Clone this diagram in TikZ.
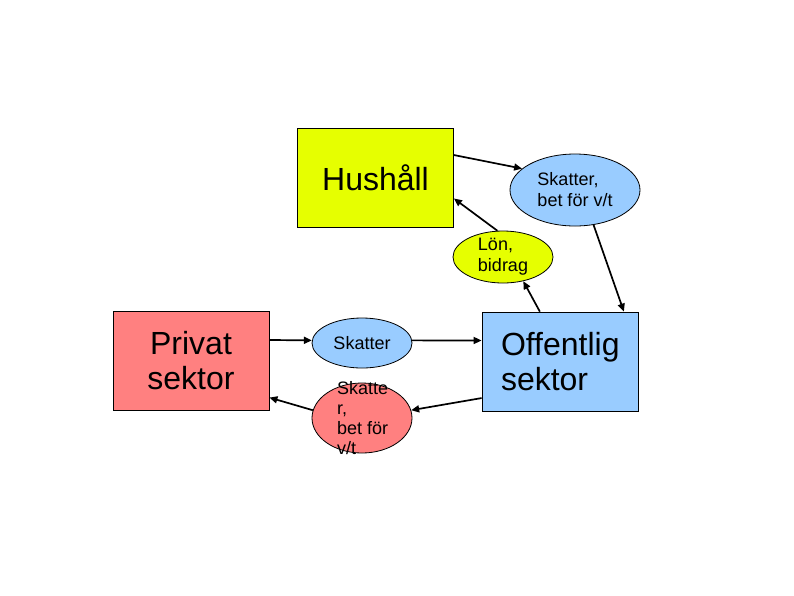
\documentclass[tikz,border=0pt]{standalone}
\usepackage{fontspec}
\setmainfont{Liberation Sans}
\usetikzlibrary{arrows.meta,shapes.geometric}
\definecolor{hyellow}{RGB}{230,255,0}
\definecolor{hblue}{RGB}{153,204,255}
\definecolor{hred}{RGB}{255,128,128}
\begin{document}
\begin{tikzpicture}[x=1pt,y=-1pt,
  box/.style={draw=black, line width=0.8pt, minimum width=156pt, minimum height=99pt, inner sep=0pt},
  oval/.style={ellipse, draw=black, line width=0.8pt, inner sep=0pt},
  big/.style={font=\fontsize{32}{35}\selectfont},
  small/.style={font=\fontsize{18}{21}\selectfont, align=left, inner sep=0pt},
  flow/.style={line width=1.7pt, -{Triangle[length=8pt,width=7pt]}}]
\useasboundingbox[fill=white] (0,0) rectangle (794,595);

% boxes
\node[box, fill=hyellow, big, align=center] (hus) at (375.5,177.5) {Hushåll};
\node[box, fill=hred, big, align=center] (priv) at (191,361) {Privat\\sektor};
\node[box, fill=hblue, big, align=left, text width=118pt, inner xsep=19pt] (off) at (560,361.5) {Offentlig\\sektor};

% ellipses
\node[oval, fill=hblue, minimum width=130pt, minimum height=72pt] (sk1) at (575,190) {};
\node[small] (sk1t) at (sk1.center) {Skatter,\\bet för v/t};
\node[oval, fill=hyellow, minimum width=100pt, minimum height=52pt] (lon) at (503,257) {};
\node[small] (lont) at (lon.center) {Lön,\\bidrag};
\node[oval, fill=hblue, minimum width=100pt, minimum height=50pt] (sk2) at (362,343) {};
\node[small] (sk2t) at (sk2.center) {Skatter};
\node[oval, fill=hred, minimum width=100pt, minimum height=70pt] (sk3) at (362,418) {};
\node[small, font=\fontsize{18}{20}\selectfont, anchor=west] (sk3t) at ([xshift=-25pt]sk3.center) {Skatte\\r,\\bet för\\v/t};

% connectors
\draw[flow] (hus.16) -- (sk1.158);
\draw[flow] (sk1.-62) -- (off.38);
\draw[flow] (off.112) -- (lon.-50);
\draw[flow] (lon.102) -- (hus.-15);
\draw[flow] (priv.15) -- (sk2.177);
\draw[flow] (sk2.3) -- (off.165);
\draw[flow] (off.205) -- (sk3.9);
\draw[flow] (sk3.171) -- (priv.-25);
\end{tikzpicture}
\end{document}
